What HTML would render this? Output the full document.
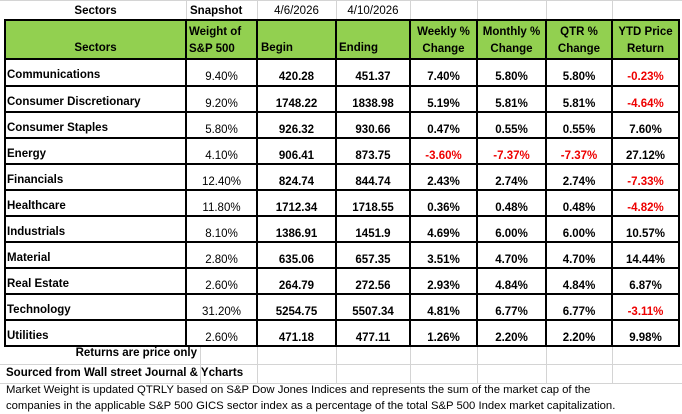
<!DOCTYPE html><html><head><style>
body{margin:0;width:682px;height:412px;background:#fff;position:relative;overflow:hidden;font-family:"Liberation Sans",Arial,sans-serif;font-size:11.5px;color:#000}
.a{position:absolute;white-space:nowrap}
.g{position:absolute;background:#d4d4d4}
.k{position:absolute;background:#000}
.c{position:absolute;text-align:center;font-weight:bold}
</style></head><body>
<div class="g" style="left:0;top:0;width:682px;height:1px"></div>
<div class="g" style="left:186px;top:0;width:1px;height:19px"></div>
<div class="g" style="left:257px;top:0;width:1px;height:19px"></div>
<div class="g" style="left:336px;top:0;width:1px;height:19px"></div>
<div class="g" style="left:410px;top:0;width:1px;height:19px"></div>
<div class="g" style="left:477px;top:0;width:1px;height:19px"></div>
<div class="g" style="left:546px;top:0;width:1px;height:19px"></div>
<div class="g" style="left:612px;top:0;width:1px;height:19px"></div>
<div class="g" style="left:0;top:364px;width:682px;height:1px"></div>
<div class="g" style="left:0;top:383px;width:682px;height:1px"></div>
<div class="g" style="left:200px;top:346px;width:1px;height:37px"></div>
<div class="g" style="left:257px;top:346px;width:1px;height:37px"></div>
<div class="g" style="left:336px;top:346px;width:1px;height:37px"></div>
<div class="g" style="left:410px;top:346px;width:1px;height:37px"></div>
<div class="g" style="left:477px;top:346px;width:1px;height:37px"></div>
<div class="g" style="left:546px;top:346px;width:1px;height:37px"></div>
<div class="g" style="left:612px;top:346px;width:1px;height:37px"></div>
<div style="position:absolute;left:5px;top:20px;width:674px;height:39px;background:#92d050"></div>
<div class="c" style="left:5px;top:5px;width:181px">Sectors</div>
<div class="a" style="left:190px;top:5px;font-weight:bold">Snapshot</div>
<div class="a" style="left:257px;top:5px;width:79px;text-align:center">4/6/2026</div>
<div class="a" style="left:336px;top:5px;width:74px;text-align:center">4/10/2026</div>
<div class="c" style="left:5px;top:42px;width:181px">Sectors</div>
<div class="a" style="left:189px;top:24px;font-weight:bold;line-height:17px">Weight of<br>S&amp;P 500</div>
<div class="a" style="left:261px;top:42px;font-weight:bold">Begin</div>
<div class="a" style="left:339px;top:42px;font-weight:bold">Ending</div>
<div class="c" style="left:410px;top:24px;width:67px;line-height:17px">Weekly %<br>Change</div>
<div class="c" style="left:477px;top:24px;width:69px;line-height:17px">Monthly %<br>Change</div>
<div class="c" style="left:546px;top:24px;width:66px;line-height:17px">QTR %<br>Change</div>
<div class="c" style="left:612px;top:24px;width:67px;line-height:17px">YTD Price<br>Return</div>
<div class="k" style="left:4px;top:19px;width:676px;height:2px"></div>
<div class="k" style="left:4px;top:58px;width:676px;height:2px"></div>
<div class="k" style="left:4px;top:19px;width:2px;height:327px"></div>
<div class="k" style="left:678px;top:19px;width:2px;height:327px"></div>
<div class="k" style="left:185px;top:19px;width:2px;height:327px"></div>
<div class="k" style="left:256px;top:19px;width:2px;height:327px"></div>
<div class="k" style="left:335px;top:19px;width:2px;height:327px"></div>
<div class="k" style="left:409px;top:19px;width:2px;height:327px"></div>
<div class="k" style="left:476px;top:19px;width:2px;height:327px"></div>
<div class="k" style="left:545px;top:19px;width:2px;height:327px"></div>
<div class="k" style="left:611px;top:19px;width:2px;height:327px"></div>
<div id="rows"></div>
<div class="a" style="left:5px;top:347px;width:192px;text-align:right;font-weight:bold">Returns are price only</div>
<div class="a" style="left:6px;top:367px;font-weight:bold">Sourced from Wall street Journal &amp; Ycharts</div>
<div class="a" style="left:6px;top:383px;font-size:11.3px;line-height:15.5px">Market Weight is updated QTRLY based on S&amp;P Dow Jones Indices and represents the sum of the market cap of the<br>companies in the applicable S&amp;P 500 GICS sector index as a percentage of the total S&amp;P 500 Index market capitalization.</div>
<script>
var d=[["Communications","9.40%","420.28","451.37","7.40%","5.80%","5.80%","-0.23%"],
["Consumer Discretionary","9.20%","1748.22","1838.98","5.19%","5.81%","5.81%","-4.64%"],
["Consumer Staples","5.80%","926.32","930.66","0.47%","0.55%","0.55%","7.60%"],
["Energy","4.10%","906.41","873.75","-3.60%","-7.37%","-7.37%","27.12%"],
["Financials","12.40%","824.74","844.74","2.43%","2.74%","2.74%","-7.33%"],
["Healthcare","11.80%","1712.34","1718.55","0.36%","0.48%","0.48%","-4.82%"],
["Industrials","8.10%","1386.91","1451.9","4.69%","6.00%","6.00%","10.57%"],
["Material","2.80%","635.06","657.35","3.51%","4.70%","4.70%","14.44%"],
["Real Estate","2.60%","264.79","272.56","2.93%","4.84%","4.84%","6.87%"],
["Technology","31.20%","5254.75","5507.34","4.81%","6.77%","6.77%","-3.11%"],
["Utilities","2.60%","471.18","477.11","1.26%","2.20%","2.20%","9.98%"]];
var x=[5,186,257,336,410,477,546,612,679],h="";
d.forEach(function(r,i){var t=60+i*26;var ty=t+(i==0?9:10);
h+='<div class="k" style="left:4px;top:'+(t+24.5)+'px;width:676px;height:2px"></div>';
h+='<div class="a" style="left:7px;top:'+ty+'px;font-weight:bold">'+r[0]+'</div>';
for(var j=1;j<8;j++){var red=(j>=4&&r[j][0]=="-");
h+='<div class="a" style="left:'+x[j]+'px;width:'+(x[j+1]-x[j])+'px;text-align:center;top:'+(ty+2)+'px;'+(j==1?'':'font-weight:bold;')+(red?'color:#e00':'')+'">'+r[j]+'</div>';}
});
document.getElementById("rows").innerHTML=h;
</script>
</body></html>
